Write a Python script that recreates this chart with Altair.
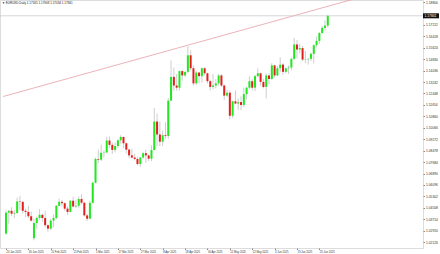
import altair as alt
import pandas as pd

# ---- data (EURUSD daily, 20 Jan 2025 - 30 Jun 2025) ----
dates = [d.strftime("%Y-%m-%d") for d in pd.bdate_range("2025-01-20", "2025-06-30")]

opens = [1.0272, 1.0417, 1.0430, 1.0410, 1.0414, 1.0495, 1.0492, 1.0430, 1.0422, 1.0392,
         1.0240, 1.0345, 1.0380, 1.0402, 1.0380, 1.0330, 1.0306, 1.0362, 1.0380, 1.0465,
         1.0492, 1.0483, 1.0445, 1.0422, 1.0500, 1.0460, 1.0465, 1.0512, 1.0486, 1.0398,
         1.0375, 1.0485, 1.0625, 1.0790, 1.0785, 1.0833, 1.0835, 1.0918, 1.0888, 1.0853,
         1.0880, 1.0920, 1.0943, 1.0899, 1.0855, 1.0815, 1.0800, 1.0790, 1.0755, 1.0800,
         1.0830, 1.0815, 1.0792, 1.0852, 1.1050, 1.0960, 1.0910, 1.0955, 1.0950, 1.1195,
         1.1360, 1.1300, 1.1285, 1.1400, 1.1370, 1.1395, 1.1510, 1.1420, 1.1315, 1.1390,
         1.1365, 1.1420, 1.1385, 1.1330, 1.1290, 1.1300, 1.1315, 1.1370, 1.1300, 1.1230,
         1.1250, 1.1090, 1.1190, 1.1175, 1.1185, 1.1165, 1.1240, 1.1285, 1.1330, 1.1285,
         1.1365, 1.1385, 1.1325, 1.1290, 1.1370, 1.1345, 1.1440, 1.1370, 1.1420, 1.1445,
         1.1395, 1.1420, 1.1425, 1.1485, 1.1585, 1.1550, 1.1560, 1.1480, 1.1482, 1.1485,
         1.1520, 1.1580, 1.1610, 1.1665, 1.1700, 1.17165]
highs = [1.0433, 1.0435, 1.0455, 1.0434, 1.0522, 1.0533, 1.0500, 1.0445, 1.0465, 1.0425,
         1.0375, 1.0390, 1.0442, 1.0410, 1.0430, 1.0335, 1.0375, 1.0405, 1.0470, 1.0515,
         1.0505, 1.0488, 1.0460, 1.0505, 1.0528, 1.0505, 1.0528, 1.0545, 1.0495, 1.0410,
         1.0500, 1.0630, 1.0800, 1.0855, 1.0890, 1.0850, 1.0945, 1.0945, 1.0905, 1.0905,
         1.0925, 1.0955, 1.0945, 1.0905, 1.0860, 1.0860, 1.0825, 1.0805, 1.0805, 1.0840,
         1.0855, 1.0820, 1.0885, 1.1144, 1.1105, 1.1050, 1.0985, 1.1045, 1.1215, 1.1474,
         1.1425, 1.1380, 1.1405, 1.1405, 1.1395, 1.1573, 1.1545, 1.1440, 1.1400, 1.1395,
         1.1425, 1.1425, 1.1390, 1.1340, 1.1380, 1.1345, 1.1380, 1.1380, 1.1305, 1.1270,
         1.1265, 1.1195, 1.1265, 1.1210, 1.1225, 1.1285, 1.1290, 1.1365, 1.1345, 1.1375,
         1.1420, 1.1390, 1.1345, 1.1385, 1.1385, 1.1455, 1.1445, 1.1435, 1.1495, 1.1455,
         1.1425, 1.1440, 1.1495, 1.1630, 1.1615, 1.1590, 1.1575, 1.1540, 1.1490, 1.1530,
         1.1585, 1.1640, 1.1670, 1.1715, 1.1754, 1.17908]
lows = [1.0265, 1.0340, 1.0395, 1.0380, 1.0410, 1.0435, 1.0410, 1.0385, 1.0380, 1.0355,
        1.0225, 1.0305, 1.0370, 1.0355, 1.0315, 1.0285, 1.0295, 1.0315, 1.0370, 1.0460,
        1.0460, 1.0430, 1.0400, 1.0420, 1.0455, 1.0450, 1.0450, 1.0475, 1.0390, 1.0360,
        1.0375, 1.0480, 1.0620, 1.0760, 1.0775, 1.0800, 1.0830, 1.0870, 1.0825, 1.0835,
        1.0865, 1.0895, 1.0865, 1.0830, 1.0795, 1.0795, 1.0780, 1.0745, 1.0735, 1.0790,
        1.0765, 1.0775, 1.0775, 1.0850, 1.0880, 1.0880, 1.0880, 1.0930, 1.0930, 1.1195,
        1.1265, 1.1265, 1.1265, 1.1335, 1.1360, 1.1385, 1.1405, 1.1300, 1.1305, 1.1315,
        1.1320, 1.1370, 1.1315, 1.1265, 1.1275, 1.1280, 1.1300, 1.1290, 1.1200, 1.1220,
        1.1065, 1.1075, 1.1170, 1.1130, 1.1130, 1.1150, 1.1205, 1.1275, 1.1265, 1.1260,
        1.1360, 1.1300, 1.1280, 1.1210, 1.1310, 1.1340, 1.1355, 1.1365, 1.1395, 1.1375,
        1.1385, 1.1380, 1.1405, 1.1475, 1.1490, 1.1525, 1.1470, 1.1455, 1.1445, 1.1470,
        1.1455, 1.1565, 1.1590, 1.1660, 1.1680, 1.17034]
closes = [1.0417, 1.0430, 1.0410, 1.0414, 1.0495, 1.0492, 1.0430, 1.0422, 1.0392, 1.0362,
          1.0345, 1.0380, 1.0402, 1.0380, 1.0330, 1.0306, 1.0362, 1.0380, 1.0465, 1.0492,
          1.0483, 1.0445, 1.0422, 1.0500, 1.0460, 1.0465, 1.0512, 1.0486, 1.0398, 1.0375,
          1.0485, 1.0625, 1.0790, 1.0785, 1.0833, 1.0835, 1.0918, 1.0888, 1.0853, 1.0880,
          1.0920, 1.0943, 1.0899, 1.0855, 1.0815, 1.0800, 1.0790, 1.0755, 1.0800, 1.0830,
          1.0815, 1.0792, 1.0852, 1.1050, 1.0960, 1.0910, 1.0955, 1.0950, 1.1195, 1.1360,
          1.1300, 1.1285, 1.1400, 1.1370, 1.1395, 1.1510, 1.1420, 1.1315, 1.1390, 1.1365,
          1.1420, 1.1385, 1.1330, 1.1290, 1.1300, 1.1315, 1.1370, 1.1300, 1.1230, 1.1250,
          1.1090, 1.1190, 1.1175, 1.1185, 1.1165, 1.1240, 1.1285, 1.1330, 1.1285, 1.1365,
          1.1385, 1.1325, 1.1290, 1.1370, 1.1345, 1.1440, 1.1370, 1.1420, 1.1445, 1.1395,
          1.1420, 1.1425, 1.1485, 1.1585, 1.1550, 1.1560, 1.1480, 1.1482, 1.1485, 1.1520,
          1.1580, 1.1610, 1.1665, 1.1700, 1.17165, 1.17841]

date_tick_idx = [0, 8, 16, 24, 32, 40, 48, 56, 64, 72, 80, 88, 96, 104, 112]
date_tick_labels = ["20 Jan 2025", "30 Jan 2025", "11 Feb 2025", "21 Feb 2025", "5 Mar 2025",
                    "17 Mar 2025", "27 Mar 2025", "8 Apr 2025", "18 Apr 2025", "30 Apr 2025",
                    "12 May 2025", "22 May 2025", "3 Jun 2025", "13 Jun 2025", "25 Jun 2025"]
price_ticks = [1.18800, 1.17212, 1.16418, 1.15624, 1.14830, 1.14036, 1.13242, 1.12448,
               1.11654, 1.10860, 1.10066, 1.09272, 1.08478, 1.07684, 1.06890, 1.06096,
               1.05302, 1.04508, 1.03714, 1.02920, 1.02126]
trend_idx = [-1, 145]
trend_price = [1.12237, 1.20121]
bid_price = 1.17841
title_text = "\u25bc EURUSD,Daily  1.17165 1.17908 1.17034 1.17841"

# ---- frames ----
df = pd.DataFrame({"i": list(range(len(opens))), "date": dates,
                   "open": opens, "high": highs, "low": lows, "close": closes})
df["dir"] = ["up" if c >= o else "down" for o, c in zip(opens, closes)]
trend_df = pd.DataFrame({"i": trend_idx, "p": trend_price})
bid_df = pd.DataFrame({"p": [bid_price], "label": [f"{bid_price:.5f}"]})
title_df = pd.DataFrame({"t": [title_text]})

xs = alt.Scale(domain=[-0.349, 147.25], nice=False, zero=False)
ys = alt.Scale(domain=[1.01717, 1.18939], nice=False, zero=False)

label_arr = "[" + ",".join(f"'{s}'" for s in date_tick_labels) + "]"
xaxis = alt.Axis(values=date_tick_idx, labelExpr=f"{label_arr}[round(datum.value/8)]",
                 orient="bottom", labelAlign="left", labelBaseline="top", labelFontSize=2.7,
                 labelPadding=1, tickSize=1.5, domain=False, grid=False, title=None,
                 labelColor="#333", tickColor="#888", labelFlush=False, labelOverlap=False)
yaxis = alt.Axis(values=price_ticks, format=".5f", orient="right", labelFontSize=3.3,
                 labelPadding=1, tickSize=1.5, domain=False, grid=False, title=None,
                 labelColor="#333", tickColor="#888", labelOverlap=False, labelFlush=False)

def X(f):
    return alt.X(f, type="quantitative", scale=xs, axis=xaxis)

def Y(f):
    return alt.Y(f, type="quantitative", scale=ys, axis=yaxis)

color = alt.Color("dir:N", scale=alt.Scale(domain=["up", "down"], range=["#1fe81f", "#e41e1e"]),
                  legend=None)

base = alt.Chart(df)
wicks = base.mark_rule(color="#b8b8b8", strokeWidth=0.7).encode(x=X("i"), y=Y("low"), y2="high")
bodies = base.mark_bar(size=2).encode(x=X("i"), y=Y("open"), y2="close", color=color)

trend = alt.Chart(trend_df).mark_line(color="#e6a0a8", strokeWidth=0.8, clip=True).encode(
    x=X("i"), y=Y("p"))

bid_line = alt.Chart(bid_df).mark_rule(color="#c4c4c4", strokeWidth=0.7).encode(
    y=Y("p"), x=alt.value(0), x2=alt.value(423))
bid_box = alt.Chart(bid_df).mark_rect(color="#111", yOffset=-2.5, y2Offset=2.5, clip=False).encode(
    y=Y("p"), y2="p", x=alt.value(423), x2=alt.value(439))
bid_text = alt.Chart(bid_df).mark_text(color="white", fontSize=3.3, align="left",
                                       baseline="middle", clip=False).encode(
    y=Y("p"), x=alt.value(424.5), text="label:N")

title = alt.Chart(title_df).mark_text(color="#222", fontSize=3, align="left",
                                      baseline="top").encode(
    x=alt.value(2), y=alt.value(1.5), text="t:N")

chart = alt.layer(trend, wicks, bodies, bid_line, bid_box, bid_text, title).properties(
    width=423, height=248,
    padding={"left": 0, "top": 0, "right": 17, "bottom": 6},
    autosize=alt.AutoSizeParams(type="none"),
).configure_view(stroke="#bdbdbd", strokeWidth=0.8).configure(
    font="Liberation Sans", background="white")

chart.save("out.html", embed_options={"renderer": "svg", "actions": False})
